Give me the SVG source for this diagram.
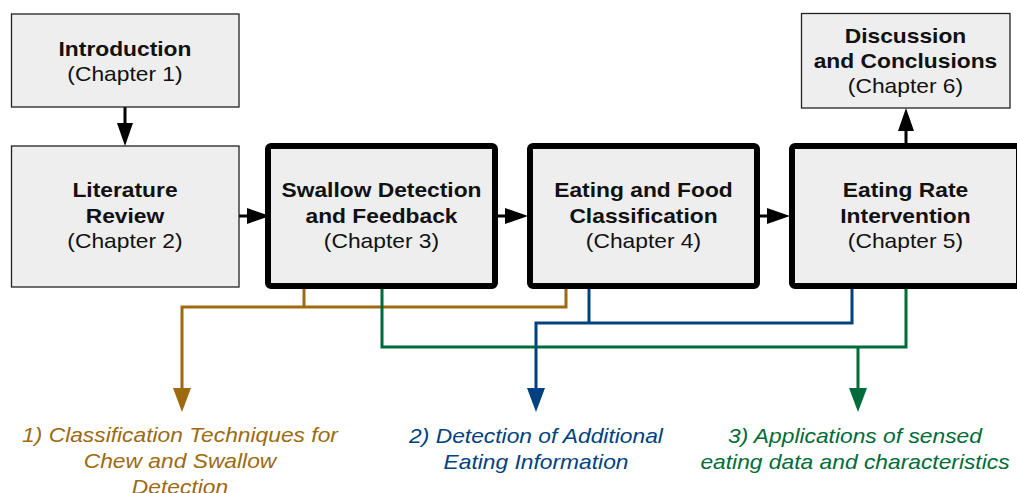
<svg xmlns="http://www.w3.org/2000/svg" width="1017" height="493" viewBox="0 0 1017 493">
  <style>
    .box { fill: #eeeeee; stroke: #222222; stroke-width: 1.3; }
    .key { fill: #eeeeee; stroke: #000000; stroke-width: 6; }
    .t { font-family: "Liberation Sans", Arial, sans-serif; font-size: 20px; text-anchor: middle; fill: #111111; }
    .b { font-weight: bold; }
    .lbl { font-family: "Liberation Sans", Arial, sans-serif; font-size: 20px; font-style: italic; text-anchor: middle; }
    .flow { fill: none; stroke: #000000; stroke-width: 3; }
    .c1 { fill: none; stroke: #9e6a10; stroke-width: 3; }
    .c2 { fill: none; stroke: #00427f; stroke-width: 3; }
    .c3 { fill: none; stroke: #006b3a; stroke-width: 3; }
  </style>
  <defs>
    <marker id="ah-black" markerUnits="userSpaceOnUse" markerWidth="24" markerHeight="16" refX="0" refY="8" orient="auto" overflow="visible">
      <path d="M0,0 L23,8 L0,16 z" fill="#000000"/>
    </marker>
    <marker id="ah-orange" markerUnits="userSpaceOnUse" markerWidth="24" markerHeight="18" refX="0" refY="9" orient="auto" overflow="visible">
      <path d="M0,0 L24,9 L0,18 z" fill="#9e6a10"/>
    </marker>
    <marker id="ah-blue" markerUnits="userSpaceOnUse" markerWidth="24" markerHeight="18" refX="0" refY="9" orient="auto" overflow="visible">
      <path d="M0,0 L24,9 L0,18 z" fill="#00427f"/>
    </marker>
    <marker id="ah-green" markerUnits="userSpaceOnUse" markerWidth="24" markerHeight="18" refX="0" refY="9" orient="auto" overflow="visible">
      <path d="M0,0 L24,9 L0,18 z" fill="#006b3a"/>
    </marker>
  </defs>

  <rect width="1017" height="493" fill="#ffffff"/>

  <!-- connectors -->
  <g id="connectors">
    <!-- chapter flow -->
    <path class="flow" d="M125,107 V123" marker-end="url(#ah-black)"/>
    <path class="flow" d="M239,216 H247" marker-end="url(#ah-black)"/>
    <path class="flow" d="M498,216 H505" marker-end="url(#ah-black)"/>
    <path class="flow" d="M760,216 H767" marker-end="url(#ah-black)"/>
    <path class="flow" d="M906,143 V131" marker-end="url(#ah-black)"/>
    <!-- theme 1 -->
    <path class="c1" d="M304,289 V307"/>
    <path class="c1" d="M566,289 V307 H182 V388" marker-end="url(#ah-orange)"/>
    <!-- theme 3 (drawn under theme 2) -->
    <path class="c3" d="M382,289 V347 H906 V289"/>
    <path class="c3" d="M858,347 V388" marker-end="url(#ah-green)"/>
    <!-- theme 2 -->
    <path class="c2" d="M589,289 V323"/>
    <path class="c2" d="M852,289 V323 H536 V388" marker-end="url(#ah-blue)"/>
  </g>

  <g id="introduction">
    <rect class="box" x="11.5" y="14" width="227.5" height="93"/>
    <text class="t" transform="translate(125,56) scale(1.14,1)"><tspan class="b" x="0" y="0">Introduction</tspan><tspan x="0" y="25">(Chapter 1)</tspan></text>
  </g>

  <g id="literature-review">
    <rect class="box" x="11.5" y="146" width="227.5" height="141"/>
    <text class="t" transform="translate(125,197) scale(1.14,1)"><tspan class="b" x="0" y="0">Literature</tspan><tspan class="b" x="0" y="26">Review</tspan><tspan x="0" y="51">(Chapter 2)</tspan></text>
  </g>

  <g id="swallow-detection">
    <rect class="key" x="268" y="146" width="227" height="140" rx="3"/>
    <text class="t" transform="translate(381.5,197) scale(1.14,1)"><tspan class="b" x="0" y="0">Swallow Detection</tspan><tspan class="b" x="0" y="26">and Feedback</tspan><tspan x="0" y="51">(Chapter 3)</tspan></text>
  </g>

  <g id="food-classification">
    <rect class="key" x="530" y="146" width="227" height="140" rx="3"/>
    <text class="t" transform="translate(643.5,197) scale(1.14,1)"><tspan class="b" x="0" y="0">Eating and Food</tspan><tspan class="b" x="0" y="26">Classification</tspan><tspan x="0" y="51">(Chapter 4)</tspan></text>
  </g>

  <g id="eating-rate">
    <rect class="key" x="792" y="146" width="227" height="140" rx="3"/>
    <text class="t" transform="translate(905.5,197) scale(1.14,1)"><tspan class="b" x="0" y="0">Eating Rate</tspan><tspan class="b" x="0" y="26">Intervention</tspan><tspan x="0" y="51">(Chapter 5)</tspan></text>
  </g>

  <g id="discussion">
    <rect class="box" x="801.5" y="13.5" width="208.5" height="94.5"/>
    <text class="t" transform="translate(905.5,43) scale(1.14,1)"><tspan class="b" x="0" y="0">Discussion</tspan><tspan class="b" x="0" y="25">and Conclusions</tspan><tspan x="0" y="50">(Chapter 6)</tspan></text>
  </g>

  <g id="theme-1">
    <text class="lbl" fill="#9e6a10" transform="translate(180,442) scale(1.14,1)"><tspan x="0" y="0">1) Classification Techniques for</tspan><tspan x="0" y="26">Chew and Swallow</tspan><tspan x="0" y="52">Detection</tspan></text>
  </g>

  <g id="theme-2">
    <text class="lbl" fill="#00427f" transform="translate(536,443) scale(1.14,1)"><tspan x="0" y="0">2) Detection of Additional</tspan><tspan x="0" y="26">Eating Information</tspan></text>
  </g>

  <g id="theme-3">
    <text class="lbl" fill="#006b3a" transform="translate(855,443) scale(1.14,1)"><tspan x="0" y="0">3) Applications of sensed</tspan><tspan x="0" y="26">eating data and characteristics</tspan></text>
  </g>
</svg>
